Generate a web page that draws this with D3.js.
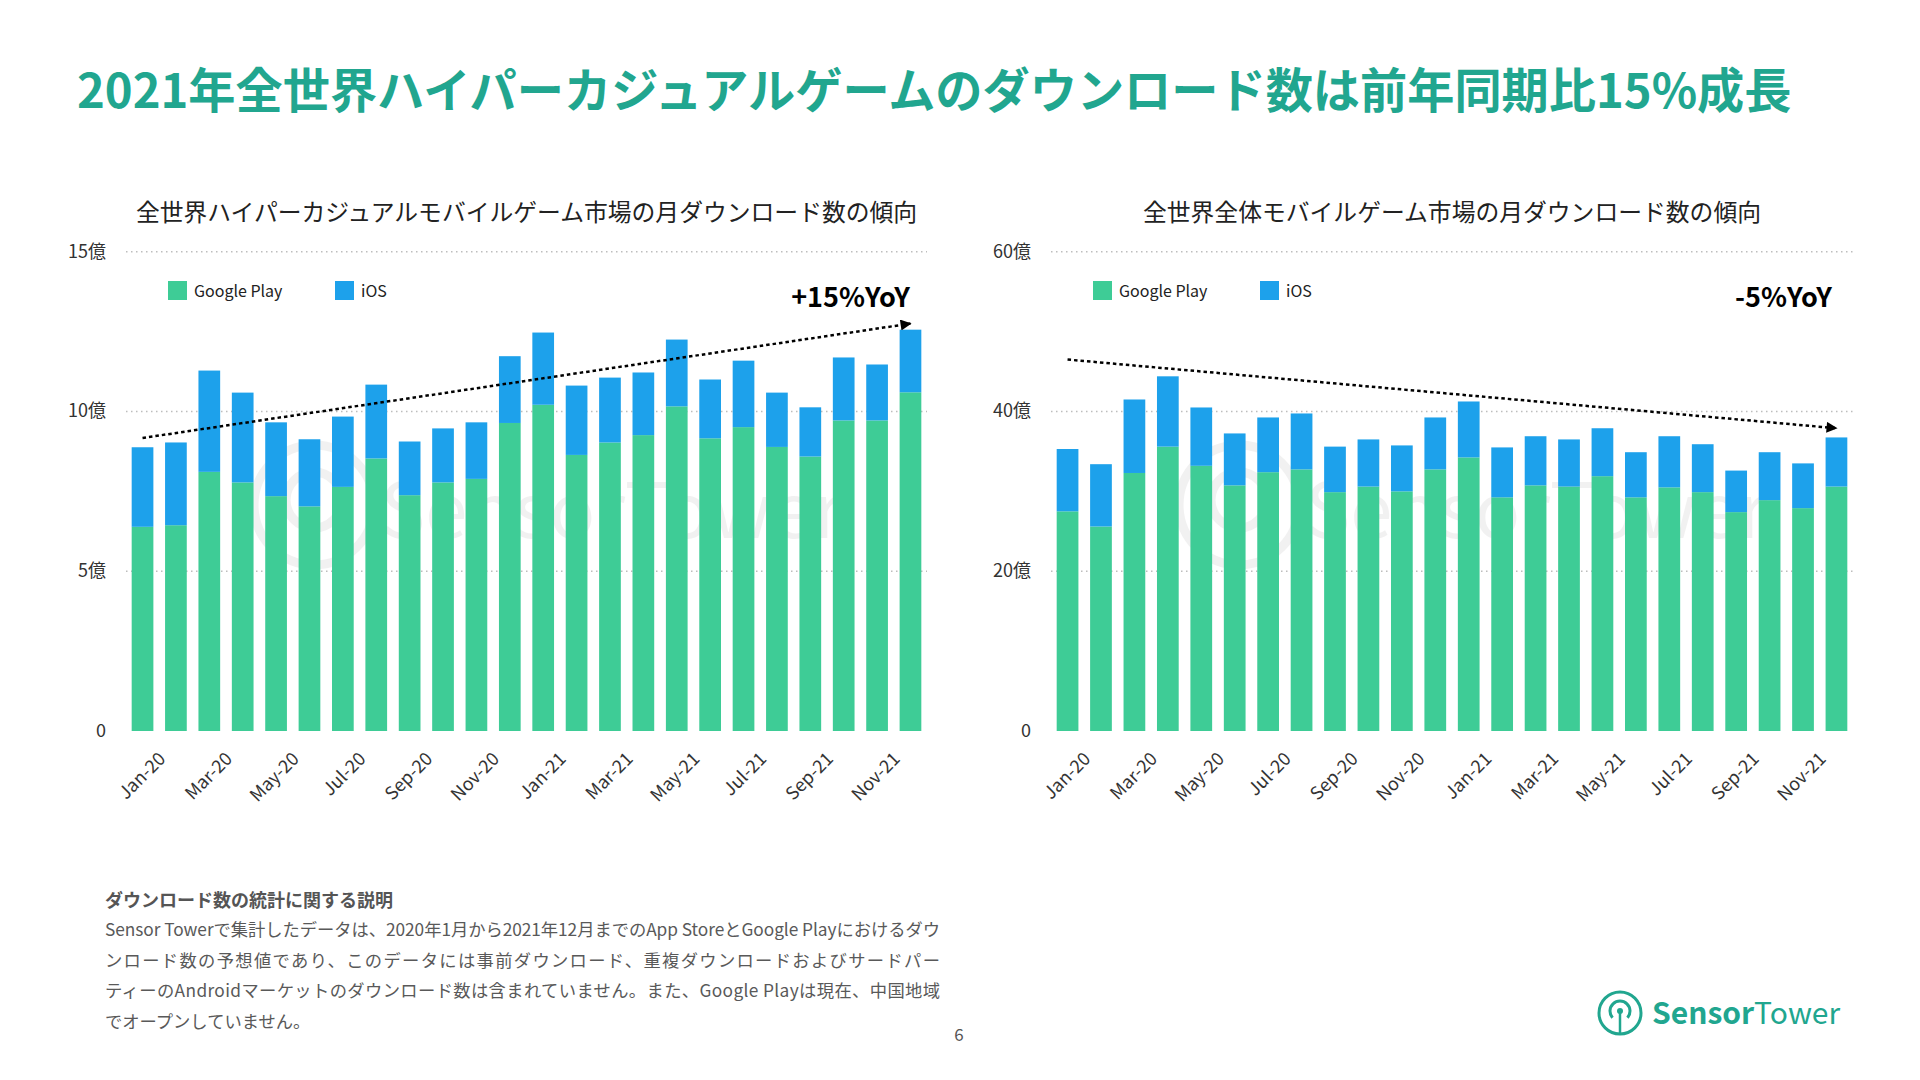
<!DOCTYPE html>
<html>
<head>
<meta charset="utf-8">
<script src="https://cdn.jsdelivr.net/npm/d3@7"></script>
<style>
  body { margin: 0; background: #fff; }
  svg { display: block; font-family: "Noto Sans CJK JP", "Noto Sans", sans-serif; }
</style>
</head>
<body>
<div id="chart"></div>
<script>
// months on the x axis (every other one is labelled)
const months = ["Jan-20","Feb-20","Mar-20","Apr-20","May-20","Jun-20","Jul-20","Aug-20","Sep-20","Oct-20","Nov-20","Dec-20",
                "Jan-21","Feb-21","Mar-21","Apr-21","May-21","Jun-21","Jul-21","Aug-21","Sep-21","Oct-21","Nov-21","Dec-21"];

// hyper-casual downloads (億)
const hcGoogle = [6.39, 6.44, 8.11, 7.78, 7.35, 7.03, 7.64, 8.53, 7.38, 7.78, 7.89, 9.64,
                  10.21, 8.64, 9.03, 9.26, 10.16, 9.16, 9.51, 8.89, 8.59, 9.72, 9.72, 10.6];
const hcIOS    = [2.49, 2.59, 3.17, 2.81, 2.31, 2.10, 2.20, 2.31, 1.68, 1.69, 1.77, 2.09,
                  2.26, 2.17, 2.03, 1.96, 2.09, 1.84, 2.08, 1.70, 1.54, 1.97, 1.75, 1.96];
const hcTrend  = [9.17, 12.75];
const hcTicks  = [0, 5, 10, 15];
const hcTickLabels = ["0", "5億", "10億", "15億"];

// all mobile games downloads (億)
const allGoogle = [27.5, 25.6, 32.3, 35.6, 33.2, 30.75, 32.4, 32.75, 29.9, 30.6, 30.0, 32.75,
                   34.25, 29.25, 30.75, 30.6, 31.9, 29.25, 30.5, 29.9, 27.4, 28.9, 27.9, 30.6];
const allIOS    = [7.8, 7.8, 9.2, 8.8, 7.3, 6.5, 6.85, 7.0, 5.7, 5.9, 5.75, 6.5,
                   7.0, 6.25, 6.15, 5.9, 6.0, 5.65, 6.4, 6.0, 5.2, 6.0, 5.6, 6.15];
const allTrend  = [46.5, 37.9];
const allTicks  = [0, 20, 40, 60];
const allTickLabels = ["0", "20億", "40億", "60億"];

const seriesNames = ["Google Play", "iOS"];
const colors = {"Google Play": "#3ECC96", "iOS": "#1DA1EB"};
const teal = "#21A68F";

const svg = d3.select("#chart").append("svg")
  .attr("width", 1920)
  .attr("height", 1080);

// arrow head for the trend lines
svg.append("defs").append("marker")
  .attr("id", "arrow")
  .attr("markerUnits", "userSpaceOnUse")
  .attr("viewBox", "0 0 10 10")
  .attr("refX", 9).attr("refY", 5)
  .attr("markerWidth", 12).attr("markerHeight", 11)
  .attr("orient", "auto")
  .append("path")
  .attr("d", "M0,0 L10,5 L0,10 Z")
  .attr("fill", "#000");

// page title
svg.append("text")
  .attr("x", 77).attr("y", 108)
  .attr("font-size", 47.2).attr("font-weight", "bold")
  .attr("fill", teal)
  .text("2021年全世界ハイパーカジュアルゲームのダウンロード数は前年同期比15%成長");

function drawChart(cfg) {
  const x = d3.scaleBand().domain(months).range([cfg.left, cfg.right]).paddingInner(0.35).paddingOuter(0.17);
  const y = d3.scaleLinear().domain([0, cfg.max]).range([731, 251.7]);
  const g = svg.append("g");

  // subtitle
  g.append("text")
    .attr("x", (cfg.left + cfg.right) / 2).attr("y", 221)
    .attr("text-anchor", "middle")
    .attr("font-size", 23.8).attr("fill", "#222")
    .text(cfg.title);

  // dotted gridlines + y labels
  g.selectAll(".grid").data(cfg.ticks.slice(1)).join("line")
    .attr("x1", cfg.left).attr("x2", cfg.right)
    .attr("y1", d => y(d)).attr("y2", d => y(d))
    .attr("stroke", "#bdbdbd").attr("stroke-width", 1.5)
    .attr("stroke-dasharray", "1.5,3.5");

  g.selectAll(".ylab").data(cfg.ticks).join("text")
    .attr("x", cfg.left - 20).attr("y", d => y(d) + 6)
    .attr("text-anchor", "end")
    .attr("font-size", 18).attr("fill", "#333")
    .text((d, i) => cfg.tickLabels[i]);

  // watermark
  const wm = g.append("g").attr("opacity", 0.05);
  wm.append("circle")
    .attr("cx", cfg.left + 188).attr("cy", 505).attr("r", 60)
    .attr("fill", "none").attr("stroke", "#000").attr("stroke-width", 9);
  wm.append("circle")
    .attr("cx", cfg.left + 188).attr("cy", 500).attr("r", 28)
    .attr("fill", "none").attr("stroke", "#000").attr("stroke-width", 9);
  wm.append("text")
    .attr("x", cfg.left + 254).attr("y", 538)
    .attr("font-size", 76).attr("fill", "#000")
    .text("SensorTower");

  // stacked bars
  const rows = months.map((m, i) => ({month: m, "Google Play": cfg.google[i], "iOS": cfg.ios[i]}));
  const stacked = d3.stack().keys(seriesNames)(rows);
  g.selectAll(".layer").data(stacked).join("g")
    .attr("fill", d => colors[d.key])
    .selectAll("rect").data(d => d).join("rect")
    .attr("x", d => x(d.data.month))
    .attr("width", x.bandwidth())
    .attr("y", d => y(d[1]))
    .attr("height", d => y(d[0]) - y(d[1]));

  // x labels
  g.selectAll(".xlab").data(months.filter((m, i) => i % 2 === 0)).join("text")
    .attr("text-anchor", "end")
    .attr("font-size", 18).attr("fill", "#333")
    .attr("transform", d => `translate(${x(d) + x.bandwidth() / 2 + 24},${760}) rotate(-45)`)
    .text(d => d);

  // legend
  const leg = g.selectAll(".leg").data(seriesNames).join("g")
    .attr("transform", (d, i) => `translate(${cfg.left + 42 + i * 167},281)`);
  leg.append("rect").attr("width", 19).attr("height", 19).attr("fill", d => colors[d]);
  leg.append("text").attr("x", 26).attr("y", 15.5)
    .attr("font-size", 16).attr("fill", "#222")
    .text(d => d);

  // trend line
  const first = months[0], last = months[months.length - 1];
  g.append("line")
    .attr("x1", x(first) + x.bandwidth() / 2).attr("y1", y(cfg.trend[0]))
    .attr("x2", x(last) + x.bandwidth() / 2).attr("y2", y(cfg.trend[1]))
    .attr("stroke", "#000").attr("stroke-width", 2.5)
    .attr("stroke-dasharray", "3.5,3")
    .attr("marker-end", "url(#arrow)");

  g.append("text")
    .attr("x", cfg.yoyX).attr("y", 307)
    .attr("text-anchor", "end")
    .attr("font-size", 27).attr("font-weight", "bold").attr("fill", "#000")
    .text(cfg.yoy);
}

drawChart({left: 126, right: 927, max: 15, ticks: hcTicks, tickLabels: hcTickLabels,
  google: hcGoogle, ios: hcIOS, trend: hcTrend, yoy: "+15%YoY", yoyX: 910,
  title: "全世界ハイパーカジュアルモバイルゲーム市場の月ダウンロード数の傾向"});

drawChart({left: 1051, right: 1853, max: 60, ticks: allTicks, tickLabels: allTickLabels,
  google: allGoogle, ios: allIOS, trend: allTrend, yoy: "-5%YoY", yoyX: 1832,
  title: "全世界全体モバイルゲーム市場の月ダウンロード数の傾向"});

// footnote (first three lines are justified to the same width)
const noteLines = [
  "Sensor Towerで集計したデータは、2020年1月から2021年12月までのApp StoreとGoogle Playにおけるダウ",
  "ンロード数の予想値であり、このデータには事前ダウンロード、重複ダウンロードおよびサードパー",
  "ティーのAndroidマーケットのダウンロード数は含まれていません。また、Google Playは現在、中国地域",
  "でオープンしていません。"
];
svg.append("text")
  .attr("x", 105).attr("y", 907)
  .attr("font-size", 18).attr("font-weight", "bold").attr("fill", "#555")
  .text("ダウンロード数の統計に関する説明");
svg.selectAll(".note").data(noteLines).join("text")
  .attr("x", 105).attr("y", (d, i) => 936 + i * 30.6)
  .attr("font-size", 17.3).attr("fill", "#595959")
  .attr("textLength", (d, i) => i < 3 ? 835 : null)
  .attr("lengthAdjust", "spacing")
  .text(d => d);

// page number
svg.append("text")
  .attr("x", 959).attr("y", 1041)
  .attr("text-anchor", "middle")
  .attr("font-size", 17).attr("fill", "#555")
  .text("6");

// Sensor Tower logo
const logo = svg.append("g").attr("transform", "translate(1620,1013)");
logo.append("circle").attr("r", 21).attr("fill", "none").attr("stroke", teal).attr("stroke-width", 3);
logo.append("path")
  .attr("d", d3.arc()({innerRadius: 10, outerRadius: 10, startAngle: -2.3, endAngle: 2.3}))
  .attr("fill", "none").attr("stroke", teal).attr("stroke-width", 3)
  .attr("transform", "translate(0,-2)");
logo.append("circle").attr("cx", 0).attr("cy", -2).attr("r", 3).attr("fill", teal);
logo.append("line").attr("x1", 0).attr("y1", -2).attr("x2", 0).attr("y2", 20)
  .attr("stroke", teal).attr("stroke-width", 2.5);
const logoText = svg.append("text")
  .attr("x", 1652).attr("y", 1024)
  .attr("font-size", 30).attr("fill", teal);
logoText.append("tspan").attr("font-weight", "bold").text("Sensor");
logoText.append("tspan").text("Tower");
</script>
</body>
</html>
